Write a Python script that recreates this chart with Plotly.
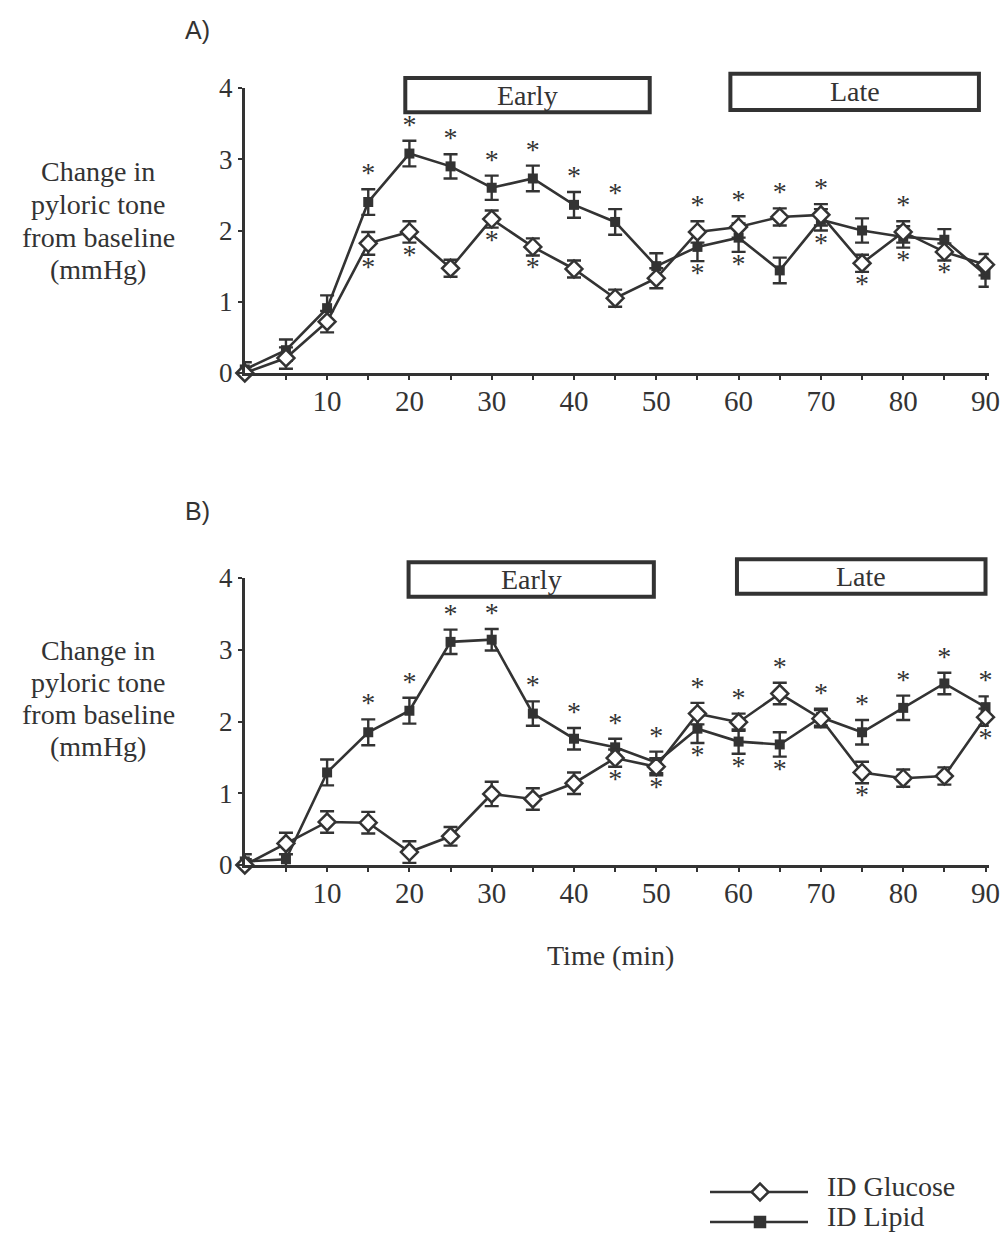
import plotly.graph_objects as go

# ---------------------------------------------------------------------------
# Data: change in pyloric tone from baseline (mmHg), mean and SEM, every 5 min
# ---------------------------------------------------------------------------
time_min = [0, 5, 10, 15, 20, 25, 30, 35, 40, 45, 50, 55, 60, 65, 70, 75, 80, 85, 90]

x_tick_vals = [5, 10, 15, 20, 25, 30, 35, 40, 45, 50, 55, 60, 65, 70, 75, 80, 85, 90]
x_tick_text = ["", "10", "", "20", "", "30", "", "40", "", "50", "", "60", "", "70", "", "80", "", "90"]
y_tick_vals = [0, 1, 2, 3, 4]
y_tick_text = ["0", "1", "2", "3", "4"]

# Panel A
a_glucose = [0.0, 0.21, 0.72, 1.82, 1.98, 1.47, 2.16, 1.77, 1.46, 1.05,
             1.33, 1.98, 2.05, 2.19, 2.22, 1.54, 1.98, 1.70, 1.52]
a_glucose_sem = [0.08, 0.15, 0.15, 0.16, 0.15, 0.12, 0.12, 0.12, 0.12, 0.12,
                 0.14, 0.15, 0.15, 0.12, 0.15, 0.12, 0.15, 0.12, 0.15]
a_lipid = [0.05, 0.32, 0.91, 2.40, 3.08, 2.90, 2.60, 2.73, 2.36, 2.12,
           1.50, 1.77, 1.90, 1.44, 2.15, 2.00, 1.91, 1.87, 1.38]
a_lipid_sem = [0.10, 0.15, 0.18, 0.18, 0.18, 0.17, 0.17, 0.18, 0.18, 0.18,
               0.18, 0.20, 0.20, 0.18, 0.15, 0.17, 0.15, 0.15, 0.17]
a_sig_above = [15, 20, 25, 30, 35, 40, 45, 55, 60, 65, 70, 80]
a_sig_below = [15, 20, 30, 35, 55, 60, 70, 75, 80, 85]

# Panel B
b_glucose = [0.0, 0.30, 0.60, 0.59, 0.18, 0.40, 0.99, 0.92, 1.14, 1.49,
             1.37, 2.11, 1.99, 2.39, 2.04, 1.29, 1.21, 1.24, 2.06]
b_glucose_sem = [0.08, 0.15, 0.15, 0.15, 0.15, 0.13, 0.17, 0.15, 0.15, 0.12,
                 0.12, 0.15, 0.12, 0.15, 0.12, 0.15, 0.12, 0.12, 0.12]
b_lipid = [0.05, 0.08, 1.29, 1.85, 2.15, 3.11, 3.14, 2.11, 1.76, 1.64,
           1.43, 1.90, 1.72, 1.68, 2.06, 1.85, 2.19, 2.53, 2.20]
b_lipid_sem = [0.10, 0.25, 0.18, 0.18, 0.18, 0.17, 0.15, 0.17, 0.15, 0.12,
               0.15, 0.20, 0.17, 0.17, 0.12, 0.17, 0.17, 0.15, 0.15]
b_sig_above = [15, 20, 25, 30, 35, 40, 45, 50, 55, 60, 65, 70, 75, 80, 85, 90]
b_sig_below = [45, 50, 55, 60, 65, 75, 90]

periods = [("Early", 20, 50), ("Late", 60, 90)]

# ---------------------------------------------------------------------------
# Styling
# ---------------------------------------------------------------------------
W, H = 1001, 1244
INK = "#333333"
SERIF = "Liberation Serif"
SANS = "Liberation Sans"
Y_MAX = 4.0
X_RANGE = [0, 90.4]
X_DOMAIN = [244.8 / W, 988.8 / W]


def py(px):
    """Paper y-fraction for a pixel row measured from the top."""
    return 1 - px / H


def paper_text(text, x_px, y_px, size, family=SERIF, xanchor="center"):
    return dict(text=text, xref="paper", yref="paper", x=x_px / W, y=py(y_px),
                xanchor=xanchor, yanchor="middle", showarrow=False,
                font=dict(family=family, size=size, color=INK))


panels = [
    dict(name="A)", glu=a_glucose, glu_e=a_glucose_sem, lip=a_lipid, lip_e=a_lipid_sem,
         above=a_sig_above, below=a_sig_below, ydom=[py(373), py(88)],
         label_y=30, title_rows=[172, 205, 237, 269],
         boxes=[(-0.5, -0.8, 3.66, 4.14), (-1.0, -0.8, 3.69, 4.20)]),
    dict(name="B)", glu=b_glucose, glu_e=b_glucose_sem, lip=b_lipid, lip_e=b_lipid_sem,
         above=b_sig_above, below=b_sig_below, ydom=[py(865), py(578)],
         label_y=511, title_rows=[650, 682, 714, 746],
         boxes=[(-0.1, -0.3, 3.74, 4.22), (-0.2, 0.0, 3.78, 4.26)]),
]

fig = go.Figure()
shapes, annotations = [], []

for i, p in enumerate(panels):
    sfx = "" if i == 0 else str(i + 1)
    xa, ya = "x" + sfx, "y" + sfx

    # ID Lipid: filled squares
    fig.add_trace(go.Scatter(
        x=time_min, y=p["lip"], xaxis=xa, yaxis=ya, mode="lines+markers",
        line=dict(color=INK, width=2.6),
        marker=dict(symbol="square", size=10, color=INK),
        error_y=dict(type="data", array=p["lip_e"], color=INK, thickness=2.4, width=7),
        cliponaxis=False, showlegend=False))
    # ID Glucose: open diamonds
    fig.add_trace(go.Scatter(
        x=time_min, y=p["glu"], xaxis=xa, yaxis=ya, mode="lines+markers",
        line=dict(color=INK, width=2.6),
        marker=dict(symbol="diamond", size=13, color="white", line=dict(color=INK, width=2.5)),
        error_y=dict(type="data", array=p["glu_e"], color=INK, thickness=2.4, width=7),
        cliponaxis=False, showlegend=False))

    # significance asterisks just beyond the outermost error bar at each time
    def ends(times, upper):
        out = []
        for t in times:
            k = time_min.index(t)
            tops = [p["lip"][k] + p["lip_e"][k], p["glu"][k] + p["glu_e"][k]]
            bots = [p["lip"][k] - p["lip_e"][k], p["glu"][k] - p["glu_e"][k]]
            out.append(max(tops) if upper else min(bots))
        return out

    star_font = dict(family=SERIF, size=28, color=INK)
    fig.add_trace(go.Scatter(
        x=p["above"], y=ends(p["above"], True), xaxis=xa, yaxis=ya, mode="text",
        text=["*"] * len(p["above"]), textposition="top center",
        textfont=star_font, cliponaxis=False, showlegend=False))
    fig.add_trace(go.Scatter(
        x=p["below"], y=ends(p["below"], False), xaxis=xa, yaxis=ya, mode="text",
        text=["*"] * len(p["below"]), textposition="bottom center",
        textfont=star_font, cliponaxis=False, showlegend=False))

    axis_common = dict(showgrid=False, zeroline=False, showline=True, linecolor=INK,
                       linewidth=3, ticks="outside", ticklen=4, tickwidth=1.5,
                       tickcolor=INK, fixedrange=True, automargin=False)
    fig.update_layout(**{
        "xaxis" + sfx: dict(axis_common, domain=X_DOMAIN, range=X_RANGE, anchor=ya,
                            tickvals=x_tick_vals, ticktext=x_tick_text,
                            ticklabelstandoff=-4,
                            tickfont=dict(family=SERIF, size=29, color=INK)),
        "yaxis" + sfx: dict(axis_common, domain=p["ydom"], range=[0, Y_MAX], anchor=xa,
                            tickvals=y_tick_vals, ticktext=y_tick_text,
                            tickfont=dict(family=SERIF, size=27, color=INK)),
    })

    # Early / Late period boxes above the plotting area
    for (label, t0, t1), (d0, d1, yb, yt) in zip(periods, p["boxes"]):
        shapes.append(dict(type="rect", xref=xa, yref=ya + " domain",
                           x0=t0 + d0, x1=t1 + d1, y0=yb / Y_MAX, y1=yt / Y_MAX,
                           line=dict(color=INK, width=4), fillcolor="white", layer="above"))
        annotations.append(dict(text=label, xref=xa, yref=ya + " domain",
                                x=(t0 + d0 + t1 + d1) / 2, y=(yb + yt) / 2 / Y_MAX,
                                showarrow=False, xanchor="center", yanchor="middle",
                                font=dict(family=SERIF, size=28, color=INK)))

    # panel letter
    annotations.append(paper_text(p["name"], 197, p["label_y"], 25, family=SANS))
    # y-axis title, one line per row
    for row_text, row_y in zip(["Change in", "pyloric tone", "from baseline", "(mmHg)"],
                               p["title_rows"]):
        annotations.append(paper_text(row_text, 98, row_y, 28))

annotations.append(paper_text("Time (min)", 610, 955, 28))

# ---------------------------------------------------------------------------
# Key (bottom right), drawn in its own pixel-scaled frame
# ---------------------------------------------------------------------------
key_rows = [("ID Glucose", 52, "diamond", 13, "white"), ("ID Lipid", 22, "square", 10, INK)]
for label, ky, sym, size, fill in key_rows:
    fig.add_trace(go.Scatter(x=[710, 808], y=[ky, ky], xaxis="x3", yaxis="y3", mode="lines",
                             line=dict(color=INK, width=2.6), showlegend=False, hoverinfo="skip"))
    fig.add_trace(go.Scatter(x=[760], y=[ky], xaxis="x3", yaxis="y3", mode="markers",
                             marker=dict(symbol=sym, size=size, color=fill,
                                         line=dict(color=INK, width=2.5)),
                             showlegend=False, hoverinfo="skip"))
    annotations.append(dict(text=label, xref="x3", yref="y3", x=825, y=ky + 6,
                            xanchor="left", yanchor="middle", showarrow=False,
                            font=dict(family=SERIF, size=28, color=INK)))

hidden = dict(visible=False, fixedrange=True, showgrid=False, zeroline=False)
fig.update_layout(
    xaxis3=dict(hidden, domain=[700 / W, 1.0], range=[700, 1001], anchor="y3"),
    yaxis3=dict(hidden, domain=[0.0, 124.4 / H], range=[0, 124.4], anchor="x3"),
)

fig.update_layout(
    width=W, height=H, margin=dict(l=0, r=0, t=0, b=0, autoexpand=False),
    paper_bgcolor="white", plot_bgcolor="white",
    shapes=shapes, annotations=annotations, showlegend=False,
    font=dict(family=SERIF, color=INK),
)

fig.write_html("out.html")
